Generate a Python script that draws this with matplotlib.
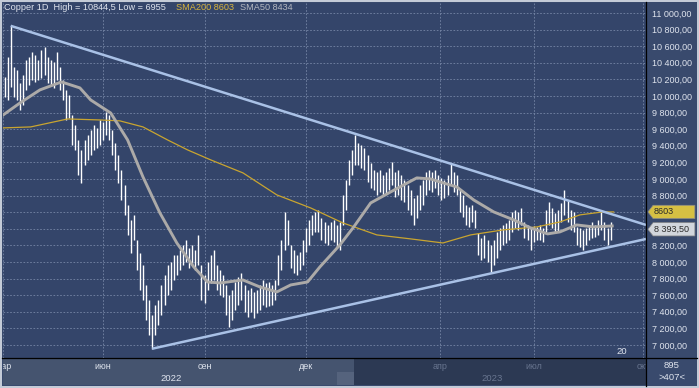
import matplotlib
matplotlib.use("Agg")
import matplotlib.pyplot as plt
from matplotlib.patches import Rectangle, Polygon
from matplotlib.lines import Line2D
import numpy as np

plt.rcParams['font.family'] = ['Liberation Sans', 'DejaVu Sans']

W, H = 699, 388

# price bars (two trading days per bar, counted from 1 March 2022)
bar_high = [
    10230, 10470, 10845, 10350, 10315, 10155, 10255, 10435, 10470, 10530,
    10495, 10435, 10555, 10590, 10470, 10435, 10410, 10530, 10350, 10195,
    10075, 10010, 9770, 9650, 9470, 9350, 9470, 9530, 9590, 9650,
    9615, 9710, 9685, 9805, 9770, 9590, 9435, 9290, 9110, 8930,
    8685, 8505, 8565, 8265, 8110, 7965, 7725, 7540, 7360, 7480,
    7540, 7725, 7845, 7965, 8000, 8085, 8085, 8145, 8205, 8265,
    8170, 8205, 8145, 8325, 7965, 7845, 8000, 8085, 8145, 7965,
    7905, 7845, 7725, 7605, 7665, 7760, 7820, 7870, 7725, 7665,
    7685, 7640, 7665, 7725, 7785, 7745, 7760, 7725, 7785, 8085,
    8265, 8605, 8505, 8205, 8145, 8085, 8120, 8265, 8410, 8505,
    8565, 8605, 8625, 8530, 8485, 8445, 8485, 8505, 8445, 8485,
    8810, 8990, 9230, 9350, 9530, 9435, 9410, 9375, 9290, 9195,
    9110, 9085, 9110, 9050, 9085, 9135, 9205, 9085, 9110, 9050,
    8990, 8930, 8870, 8770, 8810, 8930, 8990, 9085, 9110, 9085,
    9110, 9050, 9010, 8990, 9050, 9195, 9085, 9050, 8870, 8810,
    8685, 8665, 8685, 8625, 8350, 8290, 8325, 8265, 8205, 8265,
    8360, 8410, 8445, 8470, 8505, 8605, 8625, 8605, 8650, 8485,
    8445, 8410, 8434, 8420, 8445, 8410, 8625, 8725, 8650, 8590,
    8625, 8710, 8870, 8750, 8625, 8605, 8420, 8410, 8385, 8410,
    8445, 8485, 8445, 8505, 8605, 8485, 8410, 8485,
]
bar_low = [
    9990, 9950, 10110, 9990, 9950, 9830, 9890, 10075, 10135, 10195,
    10170, 10195, 10215, 10255, 10155, 10135, 10095, 10195, 10075, 9950,
    9710, 9735, 9410, 9350, 9050, 8950, 9170, 9230, 9290, 9350,
    9375, 9410, 9470, 9530, 9470, 9290, 9110, 8950, 8750, 8565,
    8325, 8110, 8265, 7905, 7665, 7540, 7300, 7120, 6955, 7120,
    7240, 7360, 7480, 7605, 7665, 7785, 7845, 7905, 7965, 8000,
    7930, 7965, 7905, 7965, 7540, 7505, 7665, 7745, 7785, 7665,
    7605, 7580, 7360, 7215, 7300, 7420, 7480, 7540, 7400, 7340,
    7400, 7325, 7385, 7420, 7480, 7460, 7470, 7480, 7540, 7725,
    7905, 8145, 8205, 7930, 7870, 7845, 7905, 7965, 8120, 8205,
    8325, 8360, 8360, 8265, 8230, 8205, 8265, 8240, 8180, 8145,
    8445, 8625, 8930, 9050, 9170, 9170, 9135, 9110, 8965, 8890,
    8870, 8810, 8845, 8810, 8830, 8870, 8930, 8785, 8810, 8750,
    8725, 8625, 8565, 8445, 8530, 8625, 8685, 8810, 8870, 8845,
    8890, 8810, 8750, 8770, 8810, 8930, 8845, 8810, 8605, 8545,
    8445, 8420, 8485, 8410, 8085, 8025, 8050, 8000, 7880, 7965,
    8050, 8145, 8205, 8230, 8265, 8360, 8410, 8385, 8445, 8290,
    8265, 8145, 8240, 8265, 8265, 8240, 8360, 8445, 8410, 8350,
    8360, 8485, 8565, 8485, 8385, 8360, 8205, 8180, 8145, 8205,
    8265, 8290, 8300, 8325, 8385, 8265, 8205, 8265,
]
last_close = 8393.5

# moving averages (trading-day index, price)
sma200_x = [0, 18, 42, 63, 76, 91, 107, 120, 135, 156, 178, 200, 221, 243, 265, 286, 304, 325, 347, 362, 375, 390, 397]
sma200_y = [9615, 9627, 9723, 9711, 9700, 9627, 9470, 9350, 9230, 9073, 8808, 8651, 8470, 8326, 8278, 8229, 8326, 8386, 8422, 8482, 8567, 8603, 8603]
sma50_x = [0, 11, 24, 38, 50, 57, 70, 81, 91, 102, 113, 124, 133, 141, 156, 167, 178, 187, 198, 206, 219, 228, 239, 252, 269, 278, 284, 295, 306, 319, 332, 343, 354, 362, 373, 384, 396]
sma50_y = [9770, 9915, 10073, 10169, 10097, 9952, 9795, 9470, 9024, 8591, 8229, 7940, 7759, 7747, 7783, 7699, 7639, 7723, 7759, 7940, 8205, 8422, 8711, 8844, 9013, 9000, 8964, 8904, 8747, 8603, 8507, 8410, 8338, 8362, 8446, 8422, 8434]

# triangle lines
upper_x = [5, 418]
upper_y = [10845, 8446]
lower_x = [97, 418]
lower_y = [6955, 8277]

month_pos = [0, 65, 131, 197, 284, 345, 416]
month_lbl = ["мар", "июн", "сен", "дек", "апр", "июл", "окт"]
year_pos = [109, 318]
year_lbl = ["2022", "2023"]

y_ticks = list(range(7000, 11001, 200))
hidden_ticks = [8400, 8600]   # covered by the price tags

BG = "#34456a"
PANEL = "#394a6d"
GRID = "#7686a6"
TXT = "#dfe4ee"
DIM = "#68758f"


def fbox(x0, y0, x1, y1):
    return [x0 / W, 1 - y1 / H, (x1 - x0) / W, (y1 - y0) / H]


fig = plt.figure(figsize=(W / 100, H / 100), dpi=100)
fig.patch.set_facecolor("#c4cbd7")
fig.add_artist(Rectangle((2 / W, 1 - 386 / H), 695 / W, 384 / H, zorder=-5,
                         transform=fig.transFigure, facecolor=PANEL, edgecolor="none"))

ax = fig.add_axes(fbox(3, 3, 646, 358))
ax.set_facecolor(BG)
ax.set_xlim(0, 418)
ax.set_ylim(6843, 11120)
for s in ax.spines.values():
    s.set_visible(False)
ax.set_yticks(y_ticks)
ax.set_yticklabels(["" if v in hidden_ticks else f"{v:,.2f}".replace(",", " ").replace(".", ",")
                    for v in y_ticks])
ax.yaxis.tick_right()
ax.tick_params(axis="y", length=0, pad=4, labelsize=6.5, labelcolor=TXT)
ax.set_xticks(month_pos)
ax.tick_params(axis="x", length=0, labelbottom=False)
ax.grid(True, color=GRID, linestyle=(0, (2, 2)), linewidth=0.6)
ax.set_axisbelow(True)

bx = np.arange(len(bar_high)) * 2 + 1
ax.vlines(bx, bar_low, bar_high, color="white", linewidth=1.0, zorder=3)
ax.plot(sma200_x, sma200_y, color="#c9a530", lw=0.9, zorder=4)
ax.plot(sma50_x, sma50_y, color="#acaaa8", lw=2.1, zorder=4)
ax.plot(upper_x, upper_y, color="#a9c1e6", lw=1.8, zorder=5, solid_capstyle="butt")
ax.plot(lower_x, lower_y, color="#a9c1e6", lw=1.8, zorder=5, solid_capstyle="butt")

ax.text(0.963, 0.005, "20", transform=ax.transAxes, color=TXT, fontsize=6.8,
        ha="center", va="bottom")

# price tags on the right scale
tr = ax.get_yaxis_transform()
for val, txt, fc in [(sma200_y[-1], "8603", "#d6c043"), (last_close, "8 393,50", "#d2d6dc")]:
    h = 80
    x0, xa, x1 = 1.003, 1.011, 1.076
    ax.add_patch(Polygon([(x0, val), (xa, val + h), (x1, val + h), (x1, val - h), (xa, val - h)],
                         closed=True, transform=tr, clip_on=False, facecolor=fc,
                         edgecolor="#8a8a8a", lw=0.5, zorder=6))
    ax.text(xa + 0.001, val, txt, transform=tr, clip_on=False, fontsize=6.5,
            color="#2a2a2a", va="center", ha="left", zorder=7)

# bottom time scale
axb = fig.add_axes(fbox(3, 358, 646, 385))
axb.set_facecolor("#2c3953")
axb.set_xlim(0, 418)
axb.set_ylim(0, 1)
axb.set_xticks([])
axb.set_yticks([])
for s in axb.spines.values():
    s.set_visible(False)
axb.add_patch(Rectangle((0, 0), 228, 1, facecolor="#45546f", edgecolor="none"))
axb.add_patch(Rectangle((217, 0), 11, 0.5, facecolor="#55637d", edgecolor="none"))
for p, t in zip(month_pos, month_lbl):
    axb.text(p, 0.68, t, color=TXT if p < 228 else DIM, fontsize=6.5,
             ha="center", va="center", clip_on=True)
for p, t in zip(year_pos, year_lbl):
    axb.text(p, 0.24, t, color=TXT if p < 228 else DIM, fontsize=6.8,
             ha="center", va="center", clip_on=True)

fig.text(672 / W, 1 - 366 / H, "895", color=TXT, fontsize=6.8, ha="center", va="center")
fig.text(672 / W, 1 - 378 / H, ">407<", color=TXT, fontsize=6.8, ha="center", va="center")

fig.add_artist(Line2D([646 / W, 646 / W], [1 - 2 / H, 1 - 386 / H],
                      transform=fig.transFigure, color="black", lw=0.9))
fig.add_artist(Line2D([2 / W, 697 / W], [1 - 358 / H, 1 - 358 / H],
                      transform=fig.transFigure, color="black", lw=0.9))

# header
fig.text(4 / W, 1 - 8 / H, "Copper 1D  High = 10844,5 Low = 6955", color=TXT,
         fontsize=6.6, ha="left", va="center")
fig.text(176 / W, 1 - 8 / H, "SMA200 8603", color="#d8b43c", fontsize=6.6, ha="left", va="center")
fig.text(240 / W, 1 - 8 / H, "SMA50 8434", color="#b4b8c0", fontsize=6.6, ha="left", va="center")

fig.savefig("out.png", dpi=100, facecolor=fig.get_facecolor())
